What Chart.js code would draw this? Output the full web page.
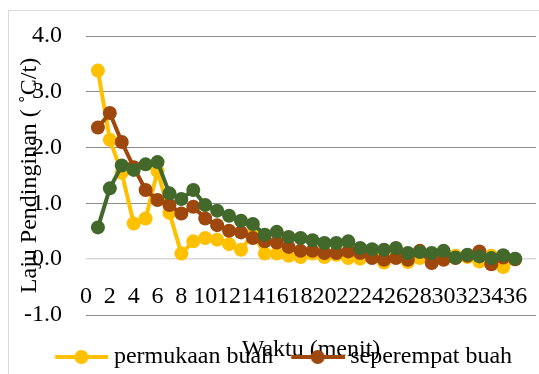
<!DOCTYPE html>
<html>
<head>
<meta charset="utf-8">
<script src="https://cdn.jsdelivr.net/npm/chart.js@4/dist/chart.umd.min.js"></script>
<style>
  html, body { margin: 0; padding: 0; background: #fff; }
  body { width: 539px; height: 374px; overflow: hidden; position: relative; }
  #frame { position: absolute; left: 8px; top: 10px; width: 549px; height: 363px;
           border: 1px solid #d9d9d9; background: #fff; }
  #frame canvas { display: block; }
</style>
</head>
<body>
<div id="frame"><canvas id="chart"></canvas></div>
<script>
// Waktu (menit)
const waktu = [1, 2, 3, 4, 5, 6, 7, 8, 9, 10, 11, 12, 13, 14, 15, 16, 17, 18,
               19, 20, 21, 22, 23, 24, 25, 26, 27, 28, 29, 30, 31, 32, 33, 34, 35, 36];

// Laju pendinginan (°C/t) per posisi pengukuran
const permukaanBuah = [3.38, 2.14, 1.55, 0.64, 0.73, 1.58, 0.83, 0.10, 0.32, 0.38, 0.35, 0.27,
                       0.17, 0.45, 0.10, 0.10, 0.06, 0.04, 0.10, 0.04, 0.08, 0.02, 0.01, 0.08,
                       -0.06, 0.06, -0.05, 0.02, 0.06, 0.04, 0.06, 0.04, -0.04, 0.06, -0.14, 0.00];
const seperempatBuah = [2.36, 2.62, 2.10, 1.65, 1.24, 1.06, 0.97, 0.82, 0.94, 0.73, 0.61, 0.51,
                        0.48, 0.38, 0.32, 0.30, 0.22, 0.15, 0.15, 0.11, 0.11, 0.14, 0.11, 0.02,
                        -0.01, 0.02, -0.01, 0.15, -0.07, -0.01, 0.02, 0.06, 0.14, -0.09, 0.03, 0.00];
const pusatBuah = [0.57, 1.27, 1.68, 1.60, 1.70, 1.74, 1.18, 1.08, 1.24, 0.97, 0.87, 0.78,
                   0.69, 0.63, 0.44, 0.49, 0.40, 0.38, 0.34, 0.29, 0.29, 0.32, 0.20, 0.18,
                   0.17, 0.20, 0.11, 0.13, 0.11, 0.15, 0.03, 0.08, 0.05, 0.02, 0.07, 0.01];

const seriesNames = ['permukaan buah', 'seperempat buah', 'pusat buah'];
const seriesValues = [permukaanBuah, seperempatBuah, pusatBuah];
const seriesColors = ['#FFC000', '#9E480E', '#43682B'];

const xTickValues = [0, 2, 4, 6, 8, 10, 12, 14, 16, 18, 20, 22, 24, 26, 28, 30, 32, 34, 36];
const yTickValues = [-1, 0, 1, 2, 3, 4];

const FONT = "'Liberation Serif', 'Times New Roman', serif";

// legend marker: a short line with a round marker on it
function legendIcon(color) {
  const c = document.createElement('canvas');
  c.width = 60; c.height = 18;
  const g = c.getContext('2d');
  g.strokeStyle = color; g.lineWidth = 4;
  g.beginPath(); g.moveTo(6.5, 9); g.lineTo(60, 9); g.stroke();
  g.fillStyle = color;
  g.beginPath(); g.arc(33, 9, 7, 0, Math.PI * 2); g.fill();
  return c;
}
const legendIcons = seriesColors.map(legendIcon);

const datasets = seriesValues.map((vals, i) => ({
  label: seriesNames[i],
  data: waktu.map((t, j) => ({ x: t, y: vals[j] })),
  borderColor: seriesColors[i],
  backgroundColor: seriesColors[i],
  borderWidth: 4,
  pointRadius: 7,
  pointBorderWidth: 0,
  pointBackgroundColor: seriesColors[i],
  tension: 0,
  showLine: true,
  clip: false,
  order: seriesValues.length - 1 - i   // later series painted on top
}));

Chart.defaults.font.family = FONT;
Chart.defaults.font.size = 24;
Chart.defaults.color = '#000';

new Chart(document.getElementById('chart'), {
  type: 'scatter',
  data: { datasets },
  options: {
    responsive: true,
    maintainAspectRatio: false,
    animation: false,
    events: [],
    layout: { padding: { top: 25, left: 0, right: 0, bottom: 0 } },
    scales: {
      // time axis crossing the value axis at its lower end
      x: {
        type: 'linear',
        position: { y: -1 },
        min: 0,
        max: 37.75,
        afterBuildTicks: s => { s.ticks = xTickValues.map(v => ({ value: v })); },
        afterFit: s => { s.height = 12; s.paddingLeft = 0; s.paddingRight = 22; },
        grid: { display: false, drawTicks: false },
        border: { display: false },
        ticks: {
          autoSkip: false, maxRotation: 0, minRotation: 0,
          padding: -30,
          font: { size: 24, lineHeight: 1 },
          color: '#000',
          callback: v => String(v)
        },
        title: {
          display: true,
          text: 'Waktu (menit)',
          font: { size: 24, lineHeight: 1.2 },
          color: '#000',
          padding: { top: 0, bottom: -37.4 }
        }
      },
      // empty strip between the plot and the legend
      gap: {
        type: 'linear',
        axis: 'x',
        position: 'bottom',
        display: true,
        afterFit: s => { s.height = 12; s.paddingLeft = 0; s.paddingRight = 0; },
        grid: { display: false, drawTicks: false },
        border: { display: false },
        ticks: { display: false },
        title: { display: false }
      },
      y: {
        min: -1,
        max: 4,
        afterBuildTicks: s => { s.ticks = yTickValues.map(v => ({ value: v })); },
        afterFit: s => { s.width = 77; s.paddingTop = 0; s.paddingBottom = 0; },
        grid: {
          drawTicks: false,
          color: c => (c.tick && c.tick.value === 0) ? '#d9d9d9' : '#8c8c8c',
          lineWidth: c => (c.tick && c.tick.value === 0) ? 1.5 : 1
        },
        border: { display: false },
        ticks: {
          padding: 24,
          font: { size: 24 },
          color: '#000',
          callback: v => Number(v).toFixed(1)
        },
        title: {
          display: true,
          text: 'Laju Pendinginan ( ˚C/t)',
          font: { size: 24, lineHeight: 1.2 },
          color: '#000',
          padding: { top: 6.6, bottom: 0 }
        }
      }
    },
    plugins: {
      tooltip: { enabled: false },
      legend: {
        display: true,
        position: 'bottom',
        maxHeight: 47,
        labels: {
          usePointStyle: true,
          pointStyleWidth: 47,
          padding: 18,
          color: '#000',
          font: { size: 24 },
          sort: (a, b) => a.datasetIndex - b.datasetIndex,
          generateLabels: chart => {
            const items = Chart.defaults.plugins.legend.labels.generateLabels(chart);
            items.forEach(it => { it.pointStyle = legendIcons[it.datasetIndex]; });
            return items;
          }
        }
      }
    }
  }
});
</script>
</body>
</html>
